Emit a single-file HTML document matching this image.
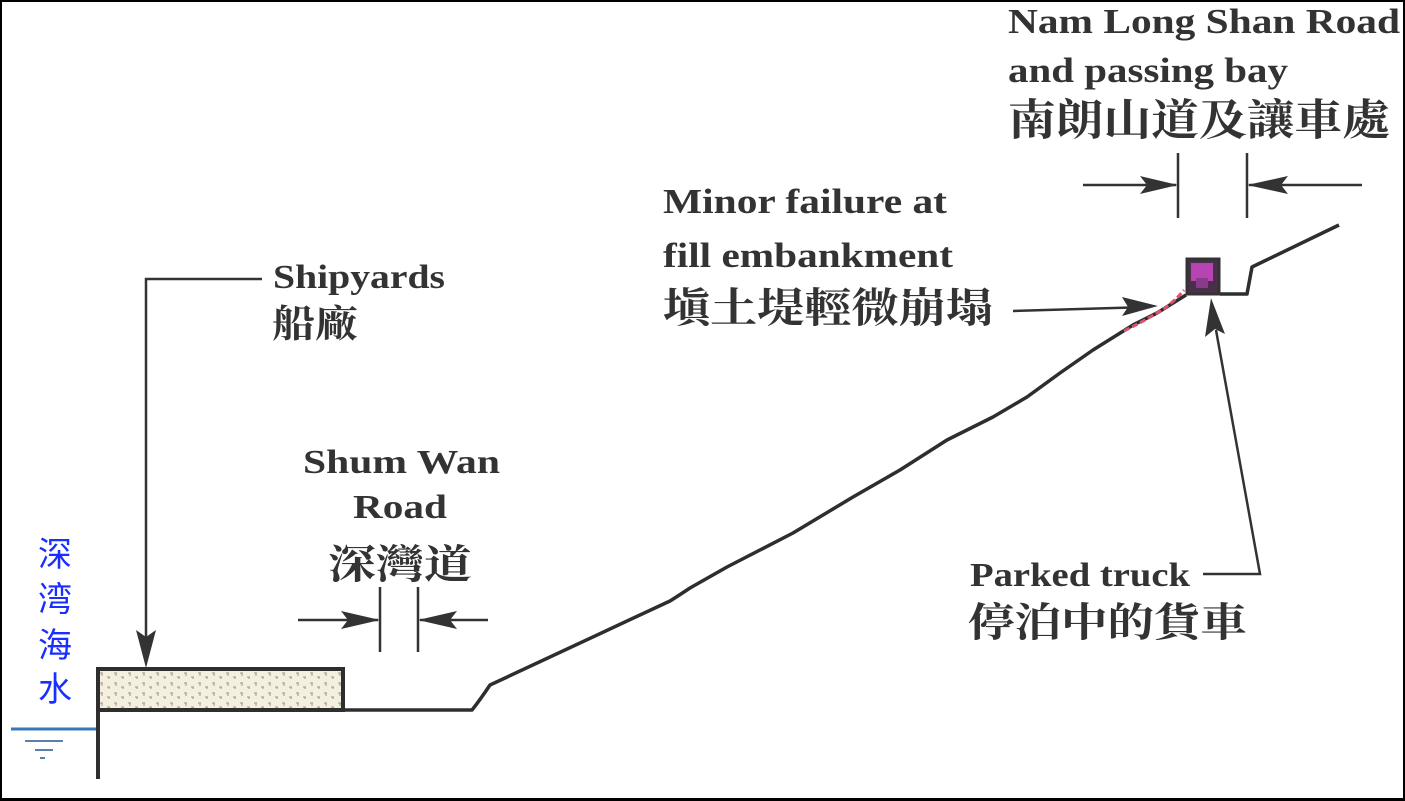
<!DOCTYPE html>
<html><head><meta charset="utf-8">
<style>
html,body{margin:0;padding:0;background:#fff;}
svg{display:block;}
.en{font-family:"Liberation Serif",serif;font-weight:bold;fill:#333;}
.cj{font-family:"Liberation Serif","Noto Serif CJK SC","Noto Sans CJK TC",serif;font-weight:bold;fill:#333;}
.bl{font-family:"Liberation Sans","Noto Sans CJK SC",sans-serif;fill:#1a2eff;font-size:34px;}
</style></head>
<body>
<svg width="1405" height="801" viewBox="0 0 1405 801" xmlns="http://www.w3.org/2000/svg">
<defs>
<pattern id="dots" x="0" y="0" width="14" height="10" patternUnits="userSpaceOnUse">
<rect width="14" height="10" fill="#f4efdf"/>
<path d="M2 3 l3 0 M4 3 l0 3 M9 7 l3 0 M11 7 l0 2" stroke="#9a9a8a" stroke-width="1"/>
</pattern>
</defs>
<rect x="0" y="0" width="1405" height="801" fill="#fff"/>
<!-- frame -->
<rect x="0" y="0" width="1405" height="2" fill="#000"/>
<rect x="0" y="0" width="2" height="801" fill="#000"/>
<rect x="1403" y="0" width="2" height="801" fill="#000"/>
<rect x="0" y="798" width="1405" height="3" fill="#000"/>

<!-- water -->
<line x1="11" y1="729" x2="97" y2="729" stroke="#3a78b8" stroke-width="3"/>
<line x1="25" y1="741" x2="63" y2="741" stroke="#5a7fa8" stroke-width="2"/>
<line x1="35" y1="750" x2="53" y2="750" stroke="#5a7fa8" stroke-width="2"/>
<line x1="40" y1="758" x2="45" y2="758" stroke="#5a7fa8" stroke-width="2"/>

<!-- blue vertical text -->
<text class="bl" x="38" y="566">深</text>
<text class="bl" x="38" y="611">湾</text>
<text class="bl" x="38" y="657">海</text>
<text class="bl" x="38" y="701">水</text>

<!-- shipyard box and wall -->
<rect x="98" y="669" width="245" height="41" fill="url(#dots)" stroke="#2e2e2e" stroke-width="4"/>
<line x1="98" y1="710" x2="98" y2="779" stroke="#2e2e2e" stroke-width="4"/>

<!-- ground profile -->
<path d="M343 710 L472 710 Q480 700 490 685 L670 601 Q678 596 690 588 L727 567 L793 533 L853 497 L900 470 L947 440 L993 417 L1027 397 L1060 373 L1093 350 L1133 325 L1157 313 L1186 295" fill="none" stroke="#2e2e2e" stroke-width="3.5" stroke-linejoin="round"/>
<path d="M1220 294 L1247 294 L1252 267 L1339 225" fill="none" stroke="#2e2e2e" stroke-width="3.5" stroke-linejoin="round"/>

<!-- failure (red) -->
<path d="M1124 331 Q1150 318 1165 308 Q1178 298 1184 290" fill="none" stroke="#e0506e" stroke-width="3" stroke-dasharray="6 3"/>

<!-- truck -->
<rect x="1187" y="259" width="32" height="35" fill="#4a2f4a" stroke="#333" stroke-width="3"/>
<rect x="1191" y="263" width="22" height="18" fill="#b844b4"/>
<rect x="1196" y="278" width="12" height="10" fill="#8a3a8a"/>

<!-- Shipyards leader -->
<polyline points="262,279 146,279 146,640" fill="none" stroke="#333" stroke-width="2.5"/>
<polygon points="146,668 136,630 146,637 156,630" fill="#333"/>

<!-- Shum Wan dims -->
<line x1="380" y1="587" x2="380" y2="652" stroke="#333" stroke-width="2.5"/>
<line x1="418" y1="587" x2="418" y2="652" stroke="#333" stroke-width="2.5"/>
<line x1="298" y1="620" x2="378" y2="620" stroke="#333" stroke-width="2.5"/>
<polygon points="380,620 341,611 348,620 341,629" fill="#333"/>
<line x1="420" y1="620" x2="488" y2="620" stroke="#333" stroke-width="2.5"/>
<polygon points="418,620 457,611 450,620 457,629" fill="#333"/>

<!-- top dims -->
<line x1="1178" y1="153" x2="1178" y2="218" stroke="#333" stroke-width="2.5"/>
<line x1="1247" y1="153" x2="1247" y2="218" stroke="#333" stroke-width="2.5"/>
<line x1="1083" y1="185" x2="1176" y2="185" stroke="#333" stroke-width="2.5"/>
<polygon points="1178,185 1140,176 1147,185 1140,194" fill="#333"/>
<line x1="1249" y1="185" x2="1362" y2="185" stroke="#333" stroke-width="2.5"/>
<polygon points="1247,185 1288,176 1281,185 1288,194" fill="#333"/>

<!-- failure arrow -->
<line x1="1013" y1="311" x2="1150" y2="307" stroke="#333" stroke-width="2.5"/>
<polygon points="1158,306 1122,297 1128,307 1122,316" fill="#333"/>

<!-- parked truck leader -->
<polyline points="1203,574 1260,574 1216,330" fill="none" stroke="#333" stroke-width="2.5"/>
<polygon points="1211,298 1205,337 1215,329 1225,334" fill="#333"/>

<!-- texts -->
<text class="en" x="1008" y="33" font-size="35" textLength="392" lengthAdjust="spacingAndGlyphs">Nam Long Shan Road</text>
<text class="en" x="1008" y="82" font-size="35" textLength="280" lengthAdjust="spacingAndGlyphs">and passing bay</text>
<text class="cj" x="1008" y="135" font-size="43" textLength="382" lengthAdjust="spacingAndGlyphs">南朗山道及讓車處</text>

<text class="en" x="663" y="213" font-size="35" textLength="284" lengthAdjust="spacingAndGlyphs">Minor failure at</text>
<text class="en" x="663" y="267" font-size="35" textLength="290" lengthAdjust="spacingAndGlyphs">fill embankment</text>
<text class="cj" x="663" y="322" font-size="41" textLength="330" lengthAdjust="spacingAndGlyphs">塡土堤輕微崩塌</text>

<text class="en" x="273" y="288" font-size="34" textLength="172" lengthAdjust="spacingAndGlyphs">Shipyards</text>
<text class="cj" x="272" y="337" font-size="38" textLength="86" lengthAdjust="spacingAndGlyphs">船廠</text>

<text class="en" x="303" y="473" font-size="34" textLength="197" lengthAdjust="spacingAndGlyphs">Shum Wan</text>
<text class="en" x="353" y="518" font-size="34" textLength="94" lengthAdjust="spacingAndGlyphs">Road</text>
<text class="cj" x="328" y="578" font-size="40" textLength="144" lengthAdjust="spacingAndGlyphs">深灣道</text>

<text class="en" x="970" y="586" font-size="34" textLength="220" lengthAdjust="spacingAndGlyphs">Parked truck</text>
<text class="cj" x="968" y="636" font-size="40" textLength="279" lengthAdjust="spacingAndGlyphs">停泊中的貨車</text>
</svg>
</body></html>
